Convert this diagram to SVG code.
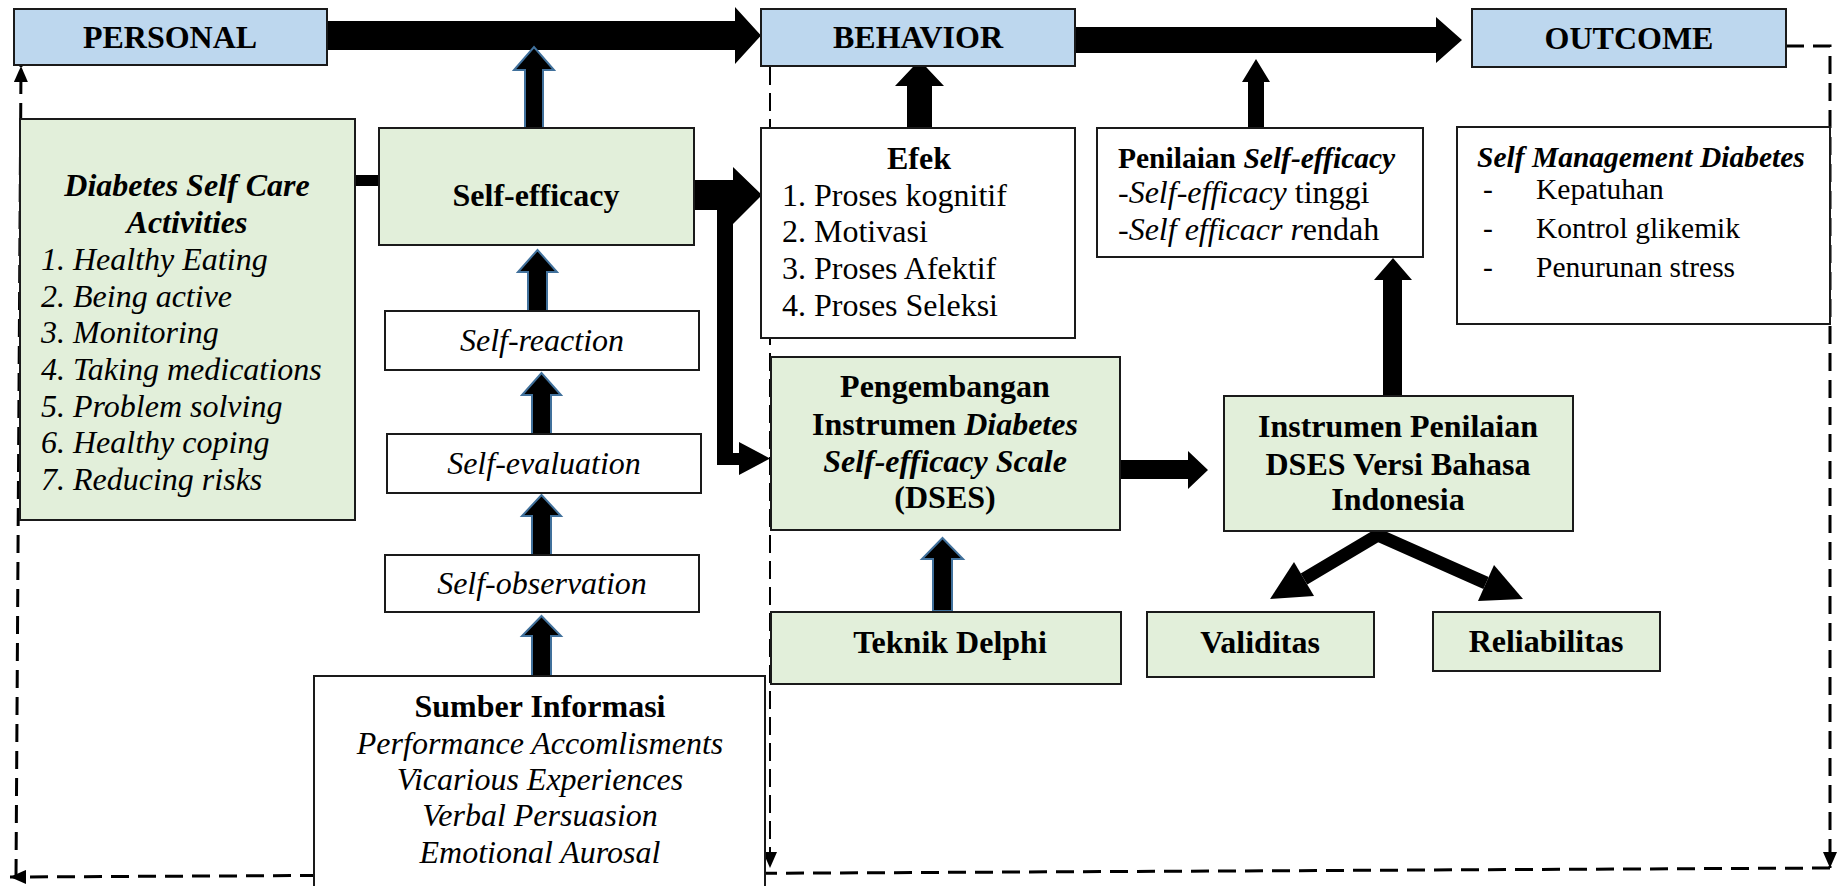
<svg xmlns="http://www.w3.org/2000/svg" width="1839" height="886" viewBox="0 0 1839 886">
  <defs>
    <style>
      text { font-family: "Liberation Serif", "Times New Roman", serif; font-size: 32px; fill: #000; }
      .b { font-weight: bold; }
      .i { font-style: italic; }
      .m { text-anchor: middle; }
      .sm { font-size: 29.5px; }
      .head { fill: #bdd7ee; stroke: #1a1a1a; stroke-width: 2; }
      .green { fill: #e2efda; stroke: #1a1a1a; stroke-width: 2; }
      .plain { fill: #ffffff; stroke: #1a1a1a; stroke-width: 2; }
      .solid { fill: #000; stroke: none; }
      .outlined { fill: #000; stroke: #41719c; stroke-width: 2; stroke-linejoin: miter; }
      .dash { fill: none; stroke: #000; stroke-width: 3; stroke-dasharray: 18 9; }
      .dash-thin { fill: none; stroke: #000; stroke-width: 2; stroke-dasharray: 18 8; }
      .fork { fill: none; stroke: #000; stroke-width: 13; stroke-linejoin: miter; }
    </style>
    <marker id="tip" viewBox="0 0 16 14" refX="16" refY="7" markerWidth="16" markerHeight="14" markerUnits="userSpaceOnUse" orient="auto">
      <path d="M0,0 L16,7 L0,14 Z" fill="#000"/>
    </marker>
  </defs>

  <!-- connectors -->
  <g id="connectors">
    <!-- feedback loop, dashed -->
    <path class="dash" d="M1786,46 H1830 V868" marker-end="url(#tip)"/>
    <path class="dash" d="M1830,868 L10,877" marker-end="url(#tip)"/>
    <path class="dash" d="M16,877 L21,66" marker-end="url(#tip)"/>
    <path class="dash-thin" d="M770,67 V868" marker-end="url(#tip)"/>

    <!-- main flow: personal -> behavior -> outcome -->
    <polygon class="solid" points="327,21 735,21 735,7 761,35.5 735,64 735,50 327,50"/>
    <polygon class="solid" points="1075,27 1436,27 1436,17 1462,40 1436,63 1436,53 1075,53"/>

    <!-- self-care activities to self-efficacy -->
    <rect class="solid" x="343" y="175" width="36" height="11"/>

    <!-- self-efficacy to personal -->
    <polygon class="outlined" points="525,128 525,70 514,70 534,47 554,70 543,70 543,128"/>

    <!-- self-regulation chain -->
    <polygon class="outlined" points="528,311 528,272 518,272 537.5,250 557,272 547,272 547,311"/>
    <polygon class="outlined" points="532,434 532,395 522,395 541.5,373 561,395 551,395 551,434"/>
    <polygon class="outlined" points="532,555 532,516 522,516 541.5,495 561,516 551,516 551,555"/>
    <polygon class="outlined" points="532,676 532,636 522,636 541.5,616 561,636 551,636 551,676"/>

    <!-- self-efficacy to effects and to instrument development -->
    <polygon class="solid" points="693,180 733,180 733,167 762,195 733,224 733,210 693,210"/>
    <rect class="solid" x="717" y="195" width="16" height="270"/>
    <polygon class="solid" points="717,453 739,453 739,442 770,458.5 739,475 739,465 717,465"/>

    <!-- effects to behavior -->
    <polygon class="solid" points="907,128 907,86 895,86 919.5,60 944,86 932,86 932,128"/>

    <!-- assessment to main flow -->
    <polygon class="solid" points="1248,128 1248,82 1242,82 1256,59 1270,82 1264,82 1264,128"/>

    <!-- Indonesian instrument to assessment -->
    <polygon class="solid" points="1383,396 1383,280 1374,280 1393,258 1412,280 1402,280 1402,396"/>

    <!-- development to Indonesian instrument -->
    <polygon class="solid" points="1120,460 1188,460 1188,451 1208,470 1188,489 1188,479 1120,479"/>

    <!-- Delphi to development -->
    <polygon class="outlined" points="933,611 933,559 922,559 942.5,538 963,559 952,559 952,611"/>

    <!-- fork to validity and reliability -->
    <polyline class="fork" points="1304,579 1378,535 1486,583"/>
    <polygon class="solid" points="1270,599 1294,562 1314,596"/>
    <polygon class="solid" points="1523,599 1494,565 1478,601"/>
  </g>

  <!-- header nodes -->
  <g id="personal">
    <rect class="head" x="14" y="9" width="313" height="56"/>
    <text class="b m" x="170" y="48">PERSONAL</text>
  </g>
  <g id="behavior">
    <rect class="head" x="761" y="9" width="314" height="57"/>
    <text class="b m" x="918" y="48">BEHAVIOR</text>
  </g>
  <g id="outcome">
    <rect class="head" x="1472" y="9" width="314" height="58"/>
    <text class="b m" x="1629" y="49">OUTCOME</text>
  </g>

  <g id="self-care-activities">
    <rect class="green" x="20" y="119" width="335" height="401"/>
    <text class="b i m" x="187" y="196">Diabetes Self Care</text>
    <text class="b i m" x="187" y="233">Activities</text>
    <text class="i" x="41" y="270">1. Healthy Eating</text>
    <text class="i" x="41" y="307">2. Being active</text>
    <text class="i" x="41" y="343">3. Monitoring</text>
    <text class="i" x="41" y="380">4. Taking medications</text>
    <text class="i" x="41" y="417">5. Problem solving</text>
    <text class="i" x="41" y="453">6. Healthy coping</text>
    <text class="i" x="41" y="490">7. Reducing risks</text>
  </g>

  <g id="self-efficacy">
    <rect class="green" x="379" y="128" width="315" height="117"/>
    <text class="b m" x="536" y="206">Self-efficacy</text>
  </g>

  <g id="self-reaction">
    <rect class="plain" x="385" y="311" width="314" height="59"/>
    <text class="i m" x="542" y="351">Self-reaction</text>
  </g>
  <g id="self-evaluation">
    <rect class="plain" x="387" y="434" width="314" height="59"/>
    <text class="i m" x="544" y="474">Self-evaluation</text>
  </g>
  <g id="self-observation">
    <rect class="plain" x="385" y="555" width="314" height="57"/>
    <text class="i m" x="542" y="594">Self-observation</text>
  </g>

  <g id="sumber-informasi">
    <rect class="plain" x="314" y="676" width="451" height="230"/>
    <text class="b m" x="540" y="717">Sumber Informasi</text>
    <text class="i m" x="540" y="754">Performance Accomlisments</text>
    <text class="i m" x="540" y="790">Vicarious Experiences</text>
    <text class="i m" x="540" y="826">Verbal Persuasion</text>
    <text class="i m" x="540" y="863">Emotional Aurosal</text>
  </g>

  <g id="efek">
    <rect class="plain" x="761" y="128" width="314" height="210"/>
    <text class="b m" x="919" y="169">Efek</text>
    <text x="782" y="206">1. Proses kognitif</text>
    <text x="782" y="242">2. Motivasi</text>
    <text x="782" y="279">3. Proses Afektif</text>
    <text x="782" y="316">4. Proses Seleksi</text>
  </g>

  <g id="penilaian">
    <rect class="plain" x="1097" y="128" width="326" height="129"/>
    <text class="sm" x="1118" y="168"><tspan class="b">Penilaian </tspan><tspan class="b i">Self-efficacy</tspan></text>
    <text x="1118" y="203">-<tspan class="i">Self-efficacy</tspan> tinggi</text>
    <text x="1118" y="240">-<tspan class="i">Self efficacr r</tspan>endah</text>
  </g>

  <g id="self-management">
    <rect class="plain" x="1457" y="127" width="373" height="197"/>
    <text class="b i sm" x="1477" y="167">Self Management Diabetes</text>
    <text class="sm" x="1483" y="199">-</text>
    <text class="sm" x="1536" y="199">Kepatuhan</text>
    <text class="sm" x="1483" y="238">-</text>
    <text class="sm" x="1536" y="238">Kontrol glikemik</text>
    <text class="sm" x="1483" y="277">-</text>
    <text class="sm" x="1536" y="277">Penurunan stress</text>
  </g>

  <g id="pengembangan">
    <rect class="green" x="771" y="357" width="349" height="173"/>
    <text class="b m" x="945" y="397">Pengembangan</text>
    <text class="b m" x="945" y="435">Instrumen <tspan class="i">Diabetes</tspan></text>
    <text class="b i m" x="945" y="472">Self-efficacy Scale</text>
    <text class="b m" x="945" y="508">(DSES)</text>
  </g>

  <g id="instrumen-indonesia">
    <rect class="green" x="1224" y="396" width="349" height="135"/>
    <text class="b m" x="1398" y="437">Instrumen Penilaian</text>
    <text class="b m" x="1398" y="475">DSES Versi Bahasa</text>
    <text class="b m" x="1398" y="510">Indonesia</text>
  </g>

  <g id="teknik-delphi">
    <rect class="green" x="771" y="612" width="350" height="72"/>
    <text class="b m" x="950" y="653">Teknik Delphi</text>
  </g>

  <g id="validitas">
    <rect class="green" x="1147" y="612" width="227" height="65"/>
    <text class="b m" x="1260" y="653">Validitas</text>
  </g>

  <g id="reliabilitas">
    <rect class="green" x="1433" y="612" width="227" height="59"/>
    <text class="b m" x="1546" y="652">Reliabilitas</text>
  </g>
</svg>
